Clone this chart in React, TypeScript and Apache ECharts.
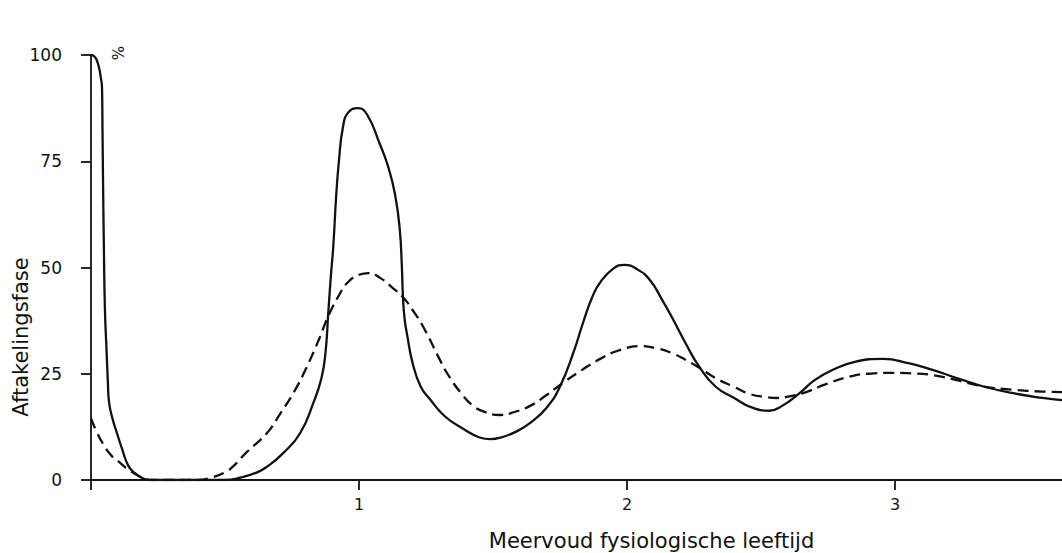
import React, { useEffect, useRef } from "react";
import * as echarts from "echarts";

const xTickValues = [0, 1, 2, 3];
const xLabelValues = [1, 2, 3];
const yTickValues = [0, 25, 50, 75, 100];
const xAxisTitle = "Meervoud fysiologische leeftijd";
const yAxisTitle = "Aftakelingsfase";
const unitMark = "%";

const solidCurve: [number, number][] = [
  [0, 100], [0.01, 99.8], [0.02, 99], [0.03, 97], [0.037, 94.5], [0.041, 92.5],
  [0.043, 82], [0.045, 70], [0.048, 55], [0.052, 40], [0.058, 30.6], [0.063, 23],
  [0.067, 18.5], [0.08, 14.5], [0.097, 11], [0.115, 7.5], [0.138, 3.5], [0.16, 1.8],
  [0.19, 0.5], [0.22, 0], [0.5, 0], [0.56, 0.6], [0.62, 1.8], [0.656, 3.1],
  [0.72, 6.5], [0.78, 11], [0.83, 18.2], [0.86, 24], [0.875, 30], [0.885, 39],
  [0.895, 48], [0.904, 55], [0.915, 67], [0.925, 75], [0.94, 83], [0.96, 86.5],
  [0.996, 87.5], [1.03, 86], [1.078, 79], [1.11, 73.5], [1.135, 67], [1.152, 59],
  [1.16, 50], [1.164, 43], [1.17, 38], [1.18, 34], [1.2, 27.5], [1.23, 22],
  [1.265, 19], [1.32, 15], [1.39, 12], [1.45, 10], [1.49, 9.6], [1.53, 10],
  [1.59, 11.5], [1.64, 13.5], [1.7, 17], [1.75, 22], [1.8, 30], [1.836, 37],
  [1.87, 43], [1.9, 46.5], [1.95, 49.8], [1.99, 50.6], [2.04, 49.5], [2.086, 47],
  [2.13, 42.5], [2.17, 38], [2.22, 32], [2.27, 26.6], [2.33, 22], [2.4, 19.3],
  [2.46, 17.2], [2.53, 16.3], [2.58, 17.5], [2.645, 20.5], [2.7, 23.5], [2.77, 26],
  [2.85, 27.8], [2.955, 28.5], [3.05, 27.5], [3.14, 25.9], [3.23, 24], [3.33, 22],
  [3.45, 20.3], [3.55, 19.3], [3.623, 18.8],
];

const dashedCurve: [number, number][] = [
  [0, 14.5], [0.02, 11.5], [0.045, 8.5], [0.075, 5.8], [0.1, 4.5], [0.14, 2.4],
  [0.19, 0.6], [0.23, 0], [0.4, 0], [0.45, 0.6], [0.5, 1.8], [0.53, 3.2],
  [0.58, 6.5], [0.656, 11], [0.705, 15.5], [0.76, 21], [0.805, 26.6], [0.85, 33],
  [0.885, 38.5], [0.93, 44], [0.955, 46.3], [1.0, 48.3], [1.035, 48.7], [1.08, 47.5],
  [1.12, 45.5], [1.164, 43], [1.2, 40], [1.24, 36], [1.3, 28.5], [1.33, 25],
  [1.38, 20.5], [1.425, 17.5], [1.47, 16], [1.526, 15.3], [1.58, 16], [1.64, 17.5],
  [1.7, 20], [1.76, 22.8], [1.83, 25.8], [1.9, 28.5], [1.97, 30.5], [2.05, 31.5],
  [2.11, 31], [2.17, 29.8], [2.22, 28.2], [2.27, 26.4], [2.33, 24], [2.4, 21.9],
  [2.46, 20.2], [2.52, 19.5], [2.56, 19.3], [2.6, 19.6], [2.66, 20.5], [2.74, 22.5],
  [2.83, 24.3], [2.9, 25], [2.98, 25.2], [3.06, 25.1], [3.14, 24.7], [3.23, 23.5],
  [3.33, 22], [3.45, 21.2], [3.55, 20.8], [3.623, 20.7],
];

const INK = "#111";
const FONT = "DejaVu Sans";

export default function App() {
  const ref = useRef<HTMLDivElement>(null);
  useEffect(() => {
    if (!ref.current) return;
    const chart = echarts.init(ref.current, null, { renderer: "svg" });
    chart.setOption({
      animation: false,
      backgroundColor: "#fff",
      grid: { left: 91, right: 0, top: 55, bottom: 73, containLabel: false, outerBoundsMode: "none" },
      xAxis: {
        type: "value",
        min: 0,
        max: 3.623,
        interval: 1,
        name: xAxisTitle,
        nameLocation: "middle",
        nameGap: 50,
        nameTextStyle: { fontFamily: FONT, fontSize: 21, color: INK, padding: [0, 0, 0, 150] },
        axisLine: { show: true, onZero: false, lineStyle: { color: INK, width: 1.8 } },
        axisTick: { show: true, inside: false, length: 10, customValues: xTickValues, lineStyle: { color: INK, width: 1.8 } },
        axisLabel: { customValues: xLabelValues, margin: 16, fontFamily: FONT, fontSize: 16, color: INK },
        splitLine: { show: false },
      },
      yAxis: {
        type: "value",
        min: 0,
        max: 100,
        interval: 25,
        axisLine: { show: true, onZero: false, lineStyle: { color: INK, width: 1.8 } },
        axisTick: { show: true, inside: false, length: 10, customValues: yTickValues, lineStyle: { color: INK, width: 1.8 } },
        axisLabel: { customValues: yTickValues, margin: 29, fontFamily: FONT, fontSize: 17, color: INK },
        splitLine: { show: false },
      },
      graphic: [
        {
          type: "text",
          x: 21,
          y: 337,
          rotation: Math.PI / 2,
          style: { text: yAxisTitle, fontFamily: FONT, fontSize: 21, fill: INK, align: "center", verticalAlign: "middle" },
        },
        {
          type: "text",
          x: 117,
          y: 53,
          rotation: -Math.PI / 2,
          style: { text: unitMark, fontFamily: FONT, fontSize: 15, fill: INK, align: "center", verticalAlign: "middle" },
        },
      ],
      series: [
        {
          type: "line",
          data: solidCurve,
          showSymbol: false,
          smooth: 0.5,
          lineStyle: { color: INK, width: 2.3, type: "solid" },
          silent: true,
        },
        {
          type: "line",
          data: dashedCurve,
          showSymbol: false,
          smooth: 0.5,
          lineStyle: { color: INK, width: 2.3, type: [11, 6] },
          silent: true,
        },
      ],
    });
    return () => chart.dispose();
  }, []);
  return <div ref={ref} style={{ position: "fixed", left: 0, top: 0, width: 1062, height: 553 }} />;
}
